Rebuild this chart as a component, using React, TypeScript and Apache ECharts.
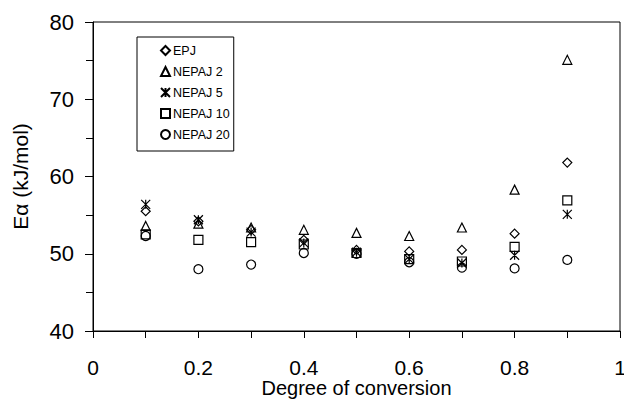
import React, { useEffect, useRef } from "react";
import * as echarts from "echarts";

const conversion = [0.1, 0.2, 0.3, 0.4, 0.5, 0.6, 0.7, 0.8, 0.9];
const EPJ = [55.5, 54.2, 53.1, 51.8, 50.5, 50.3, 50.5, 52.6, 61.8];
const NEPAJ2 = [53.6, 53.9, 53.4, 53.1, 52.7, 52.3, 53.4, 58.3, 75.1];
const NEPAJ5 = [56.4, 54.4, 52.8, 51.4, 50.2, 49.3, 48.8, 49.8, 55.1];
const NEPAJ10 = [52.5, 51.8, 51.5, 51.2, 50.1, 49.3, 49.0, 50.9, 56.9];
const NEPAJ20 = [52.3, 48.0, 48.6, 50.1, 50.0, 48.9, 48.2, 48.1, 49.2];

const seriesNames = ["EPJ", "NEPAJ 2", "NEPAJ 5", "NEPAJ 10", "NEPAJ 20"];
const seriesValues = [EPJ, NEPAJ2, NEPAJ5, NEPAJ10, NEPAJ20];
const asterisk = "path://M0,0L10,10M10,0L0,10M5,0L5,10";
const seriesSymbols = ["diamond", "triangle", asterisk, "rect", "circle"];

const FONT = "Liberation Sans, Arial, Helvetica, sans-serif";

export default function App() {
  const ref = useRef<HTMLDivElement>(null);
  useEffect(() => {
    if (!ref.current) return;
    const chart = echarts.init(ref.current, null, { renderer: "svg" });
    chart.setOption({
      animation: false,
      backgroundColor: "#fff",
      textStyle: { fontFamily: FONT, color: "#000" },
      grid: {
        left: 93,
        top: 22,
        width: 527,
        height: 309,
        outerBoundsMode: "none",
        containLabel: false,
        show: true,
        borderColor: "#000",
        borderWidth: 1,
      },
      legend: {
        orient: "vertical",
        left: 137,
        top: 37,
        padding: [7, 4, 10, 23],
        itemGap: 8,
        itemWidth: 9,
        itemHeight: 9,
        borderColor: "#000",
        borderWidth: 1,
        backgroundColor: "#fff",
        textStyle: { fontSize: 12.5, fontFamily: FONT, color: "#000", padding: [0, 0, 0, -2] },
        data: seriesNames,
      },
      xAxis: {
        type: "value",
        min: 0,
        max: 1,
        interval: 0.2,
        name: "Degree of conversion",
        nameLocation: "middle",
        nameGap: 47,
        nameMoveOverlap: false,
        nameTextStyle: { fontSize: 20, lineHeight: 20, fontFamily: FONT, color: "#000" },
        axisLine: { lineStyle: { color: "#000", width: 1 } },
        axisTick: { show: true, length: 7, lineStyle: { color: "#000" } },
        minorTick: { show: true, splitNumber: 2, length: 7, lineStyle: { color: "#000" } },
        splitLine: { show: false },
        axisLabel: {
          margin: 28,
          fontSize: 21,
          lineHeight: 16,
          fontFamily: FONT,
          color: "#000",
          formatter: (v: number) => String(Math.round(v * 10) / 10),
        },
      },
      yAxis: {
        type: "value",
        min: 40,
        max: 80,
        interval: 10,
        name: "Eα (kJ/mol)",
        nameLocation: "middle",
        nameGap: 62,
        nameMoveOverlap: false,
        nameTextStyle: { fontSize: 21, fontFamily: FONT, color: "#000" },
        axisLine: { show: true, lineStyle: { color: "#000", width: 1 } },
        axisTick: { show: true, length: 8, lineStyle: { color: "#000" } },
        minorTick: { show: true, splitNumber: 2, length: 7, lineStyle: { color: "#000" } },
        splitLine: { show: false },
        axisLabel: { margin: 19, fontSize: 22, fontFamily: FONT, color: "#000" },
      },
      series: seriesNames.map((name, i) => ({
        name,
        type: "scatter",
        symbol: seriesSymbols[i],
        symbolSize: 9,
        itemStyle: { color: "transparent", borderColor: "#000", borderWidth: 1.2, opacity: 1 },
        data: conversion.map((x, j) => [x, seriesValues[i][j]]),
      })),
    });
    return () => chart.dispose();
  }, []);
  return (
    <div
      ref={ref}
      style={{ position: "fixed", left: 0, top: 0, width: 624, height: 401 }}
    />
  );
}
